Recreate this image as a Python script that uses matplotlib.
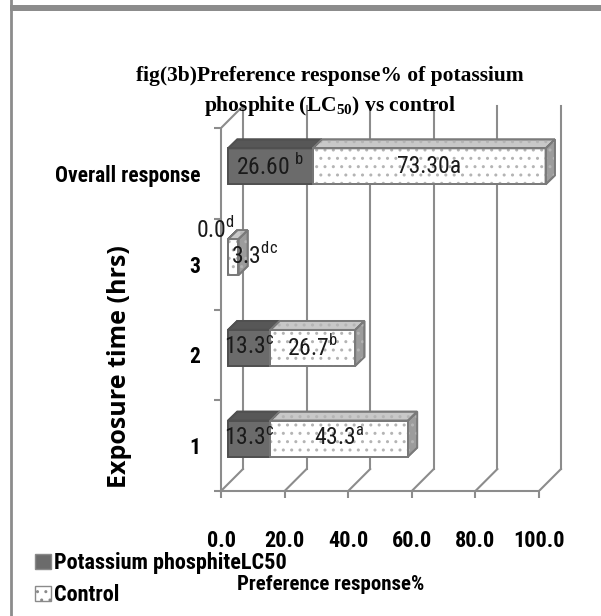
import numpy as np
import matplotlib
matplotlib.use('Agg')
import matplotlib.pyplot as plt
from matplotlib.patches import Polygon, Patch, Rectangle
from matplotlib.lines import Line2D

# data
categories = ['1', '2', '3', 'Overall response']
phosphite = [13.3, 13.3, 0.0, 26.6]
control = [43.3, 26.7, 3.3, 73.3]
phosphite_labels = ['13.3$^{\\mathrm{c}}$', '13.3$^{\\mathrm{c}}$', '0.0$^{\\mathrm{d}}$', '26.60 $^{\\mathrm{b}}$']
control_labels = ['43.3$^{\\mathrm{a}}$', '26.7$^{\\mathrm{b}}$', '3.3$^{\\mathrm{dc}}$', '73.30a']
xticks = [0, 20, 40, 60, 80, 100]

plt.rcParams['mathtext.fontset'] = 'custom'
plt.rcParams['mathtext.rm'] = 'Roboto Condensed'
plt.rcParams['mathtext.bf'] = 'Liberation Serif:bold'

COND = ['Roboto Condensed', 'Liberation Sans']
GRID = '#8c8c8c'

# 3d look, in data units
DX, DY = 6.9, 0.242          # full depth of the floor
FX, FY = 2.2, 0.077          # bar front face offset
BX, BY = 5.1, 0.176          # bar back face offset
BAR_H = 0.397

fig = plt.figure(figsize=(6.01, 6.16), dpi=100)
ax = fig.add_axes([221 / 601, 125 / 616, 349.8 / 601, 390.2 / 616])
ax.set_xlim(0, 110)
ax.set_ylim(-0.5, 3.8)

for s in ['top', 'right']:
    ax.spines[s].set_visible(False)
for s in ['left', 'bottom']:
    ax.spines[s].set_color(GRID)
    ax.spines[s].set_linewidth(1.5)
ax.spines['left'].set_bounds(-0.5, 3.5)
ax.spines['bottom'].set_bounds(0, 100)

# back wall gridlines and floor diagonals
for v in xticks:
    ax.plot([v + DX, v + DX], [-0.5 + DY, 3.5 + DY], color=GRID, lw=1.5, zorder=1)
    ax.plot([v, v + DX], [-0.5, -0.5 + DY], color=GRID, lw=1.5, zorder=1)
ax.plot([0, DX], [3.5, 3.5 + DY], color=GRID, lw=1.5, zorder=1)


def box(x0, x1, yc, front, top, edge, hatch_col, side=None):
    y0 = yc - BAR_H / 2 + FY
    y1 = yc + BAR_H / 2 + FY
    x0f, x1f = x0 + FX, x1 + FX
    faces = [
        ([(x0f, y1), (x1f, y1), (x1f + BX - FX, y1 + BY - FY), (x0f + BX - FX, y1 + BY - FY)], top),
        ([(x0f, y0), (x1f, y0), (x1f, y1), (x0f, y1)], front),
    ]
    if side is not None:
        faces.append(([(x1f, y0), (x1f + BX - FX, y0 + BY - FY),
                       (x1f + BX - FX, y1 + BY - FY), (x1f, y1)], side))
    for pts, col in faces:
        ax.add_patch(Polygon(pts, closed=True, facecolor=col, edgecolor=edge, lw=1.3, zorder=3))
        if hatch_col is not None:
            ax.add_patch(Polygon(pts, closed=True, facecolor='none', edgecolor=hatch_col,
                                 hatch='..', lw=0, zorder=3.5))
        ax.add_patch(Polygon(pts, closed=True, facecolor='none', edgecolor=edge, lw=1.3, zorder=3.6))


for i in range(len(categories)):
    p, c = phosphite[i], control[i]
    box(0, p, i, '#6b6b6b', '#575757', '#505050', None)
    box(p, p + c, i, 'white', '#c8c8c8', '#7a7a7a', '#b4b4b4', side='#9c9c9c')

    yf = i + FY
    if p > 0:
        ax.text(FX + p / 2, yf, phosphite_labels[i], ha='center', va='center',
                fontsize=17, family=COND, color='#1a1a1a', zorder=5)
        ax.text(FX + p + c / 2, yf, control_labels[i], ha='center', va='center',
                fontsize=17, family=COND, color='#1a1a1a', zorder=5)
    else:
        ax.annotate(phosphite_labels[i], (FX, yf), xytext=(-9, 20), textcoords='offset points',
                    ha='center', va='center', fontsize=17, family=COND, color='#1a1a1a',
                    zorder=5, annotation_clip=False)
        ax.annotate(control_labels[i], (FX + c / 2, yf), xytext=(15, 1), textcoords='offset points',
                    ha='center', va='center', fontsize=17, family=COND, color='#1a1a1a',
                    zorder=5, annotation_clip=False)

ax.set_xticks(xticks)
ax.set_xticklabels(['%.1f' % v for v in xticks], fontsize=16, family=COND, fontweight='bold')
ax.tick_params(axis='x', direction='out', length=5, width=1.5, color=GRID, pad=23)
ax.set_yticks(range(len(categories)))
ax.set_yticklabels(categories, fontsize=15.5, family=COND, fontweight='bold')
ax.tick_params(axis='y', which='major', length=0, pad=15)
ax.set_yticks(np.arange(-0.5, 4.0, 1.0), minor=True)
ax.tick_params(axis='y', which='minor', direction='out', length=5, width=1.5, color=GRID)

ax.set_xlabel('Preference response%', fontsize=15, family=COND, fontweight='bold')
ax.xaxis.set_label_coords(0.314, -0.215)
ax.set_ylabel('Exposure time (hrs)', fontsize=18, family='Open Sans', fontweight='bold')
ax.yaxis.set_label_coords(-0.255, 0.32)

fig.text(330 / 601, 1 - 92 / 616,
         'fig(3b)Preference response% of potassium\nphosphite (LC$_{\\mathbf{50}}$) vs control',
         ha='center', va='center', fontsize=15.5, family='Liberation Serif', fontweight='bold',
         linespacing=1.45)

handles = [Patch(facecolor='#6b6b6b', edgecolor='#8a8a8a'),
           Patch(facecolor='white', edgecolor='#8a8a8a', hatch='..')]
fig.legend(handles, ['Potassium phosphiteLC50', 'Control'], loc='upper left',
           bbox_to_anchor=(24 / 601, 1 - 541 / 616), frameon=False, borderpad=0,
           handlelength=0.7, handleheight=0.7, handletextpad=0.15, labelspacing=0.45,
           prop={'family': COND, 'weight': 'bold', 'size': 16})

# outer frame of the original figure
fig.add_artist(Line2D([11 / 601, 11 / 601], [0, 1], transform=fig.transFigure, color=GRID, lw=2))
fig.add_artist(Rectangle((10 / 601, 1 - 11 / 616), 1, 6 / 616, transform=fig.transFigure,
                         facecolor=GRID, edgecolor='none'))

fig.savefig('out.png', dpi=100)
